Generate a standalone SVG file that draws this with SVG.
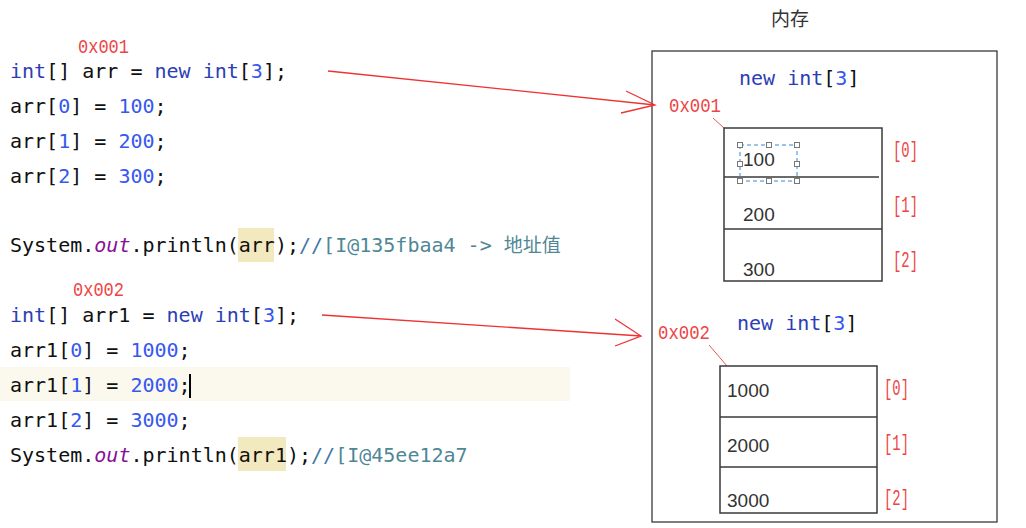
<svg xmlns="http://www.w3.org/2000/svg" width="1026" height="528" viewBox="0 0 1026 528">
<style>
.code{font-family:"DejaVu Sans Mono","Liberation Mono",monospace;font-size:20px;fill:#101010;white-space:pre}
.kw{fill:#2c3db5}
.num{fill:#3558ee}
.out{fill:#871094;font-style:italic}
.cm{fill:#4f8796}
.cms{fill:#3f78a8}
.addr{font-family:"Liberation Mono",monospace;font-size:21px;fill:#ee4444}
.idx{font-family:"Liberation Mono",monospace;font-size:22px;fill:#ee4444}
.val{font-family:"Liberation Sans",Arial,sans-serif;font-size:19px;fill:#333}
.title{font-family:"Noto Sans CJK SC","Noto Sans",sans-serif;font-size:19px;fill:#333}
.box{fill:none;stroke:#3a3a3a;stroke-width:1.5}
.conn{fill:none;stroke:#ee3333;stroke-width:1.3}
.lead{fill:none;stroke:#ee5555;stroke-width:1}
.hd{fill:#fff;stroke:#777;stroke-width:1}
</style>
<rect width="1026" height="528" fill="#fff"/>
<g id="code">
<rect x="0" y="367" width="570" height="34" fill="#fbf9ee"/>
<rect x="238" y="228" width="36" height="34" fill="#f3e9bf"/>
<rect x="238" y="437" width="48" height="34" fill="#f3e9bf"/>
<text class="addr" x="78" y="53" textLength="51" lengthAdjust="spacingAndGlyphs">0x001</text>
<text class="code" x="10" y="78"><tspan class="kw">int</tspan>[] arr = <tspan class="kw">new int</tspan>[<tspan class="num">3</tspan>];</text>
<text class="code" x="10" y="113">arr[<tspan class="num">0</tspan>] = <tspan class="num">100</tspan>;</text>
<text class="code" x="10" y="148">arr[<tspan class="num">1</tspan>] = <tspan class="num">200</tspan>;</text>
<text class="code" x="10" y="183">arr[<tspan class="num">2</tspan>] = <tspan class="num">300</tspan>;</text>
<text class="code" x="10" y="252">System.<tspan class="out">out</tspan>.println(arr);<tspan class="cms">//</tspan><tspan class="cm">[I@135fbaa4 -&gt; </tspan><tspan class="cm" style="font-family:'Noto Sans CJK SC',sans-serif;font-size:19px">地址值</tspan></text>
<text class="addr" x="73" y="296" textLength="51" lengthAdjust="spacingAndGlyphs">0x002</text>
<text class="code" x="10" y="322"><tspan class="kw">int</tspan>[] arr1 = <tspan class="kw">new int</tspan>[<tspan class="num">3</tspan>];</text>
<text class="code" x="10" y="357">arr1[<tspan class="num">0</tspan>] = <tspan class="num">1000</tspan>;</text>
<text class="code" x="10" y="392">arr1[<tspan class="num">1</tspan>] = <tspan class="num">2000</tspan>;</text>
<rect x="189" y="374" width="2" height="24" fill="#000"/>
<text class="code" x="10" y="427">arr1[<tspan class="num">2</tspan>] = <tspan class="num">3000</tspan>;</text>
<text class="code" x="10" y="462">System.<tspan class="out">out</tspan>.println(arr1);<tspan class="cms">//</tspan><tspan class="cm">[I@45ee12a7</tspan></text>
</g>
<g id="memory">
<text class="title" x="771" y="26">内存</text>
<rect class="box" x="652" y="51" width="345" height="471" style="stroke-width:1.3"/>
</g>
<g id="array1">
<text class="code" x="739" y="85"><tspan class="kw">new int</tspan>[<tspan class="num">3</tspan>]</text>
<text class="addr" x="669" y="112" textLength="52" lengthAdjust="spacingAndGlyphs">0x001</text>
<line class="lead" x1="713" y1="118" x2="724" y2="128"/>
<rect class="box" x="724" y="128" width="158" height="153"/>
<line class="box" x1="724" y1="177" x2="879" y2="177"/>
<line class="box" x1="724" y1="229" x2="882" y2="229"/>
<text class="val" x="743" y="166">100</text>
<text class="val" x="743" y="221">200</text>
<text class="val" x="743" y="276">300</text>
<rect x="740" y="145" width="57" height="36" fill="none" stroke="#3a86d8" stroke-width="1" stroke-dasharray="4 3"/>
<rect class="hd" x="737.5" y="142.5" width="5" height="5"/>
<rect class="hd" x="766.5" y="142.5" width="5" height="5"/>
<rect class="hd" x="794.5" y="142.5" width="5" height="5"/>
<rect class="hd" x="737.5" y="161.5" width="5" height="5"/>
<rect class="hd" x="794.5" y="161.5" width="5" height="5"/>
<rect class="hd" x="737.5" y="178.5" width="5" height="5"/>
<rect class="hd" x="766.5" y="178.5" width="5" height="5"/>
<rect class="hd" x="794.5" y="178.5" width="5" height="5"/>
<text class="idx" x="893" y="157" textLength="25" lengthAdjust="spacingAndGlyphs">[0]</text>
<text class="idx" x="893" y="212" textLength="25" lengthAdjust="spacingAndGlyphs">[1]</text>
<text class="idx" x="893" y="267" textLength="25" lengthAdjust="spacingAndGlyphs">[2]</text>
</g>
<g id="array2">
<text class="code" x="737" y="330"><tspan class="kw">new int</tspan>[<tspan class="num">3</tspan>]</text>
<text class="addr" x="658" y="339" textLength="52" lengthAdjust="spacingAndGlyphs">0x002</text>
<line class="lead" x1="709" y1="345" x2="727" y2="366"/>
<rect class="box" x="720" y="366" width="157" height="147"/>
<line class="box" x1="720" y1="417" x2="877" y2="417"/>
<line class="box" x1="720" y1="467" x2="877" y2="467"/>
<text class="val" x="727" y="397">1000</text>
<text class="val" x="727" y="452">2000</text>
<text class="val" x="727" y="507">3000</text>
<text class="idx" x="884" y="395" textLength="25" lengthAdjust="spacingAndGlyphs">[0]</text>
<text class="idx" x="884" y="450" textLength="25" lengthAdjust="spacingAndGlyphs">[1]</text>
<text class="idx" x="884" y="505" textLength="25" lengthAdjust="spacingAndGlyphs">[2]</text>
</g>
<g id="connectors">
<path class="conn" d="M328 71 L655 105 M626 91 L655 105 L621 113"/>
<path class="conn" d="M322 315 L641 336 M615 319 L641 336 L615 346"/>
</g>
</svg>
